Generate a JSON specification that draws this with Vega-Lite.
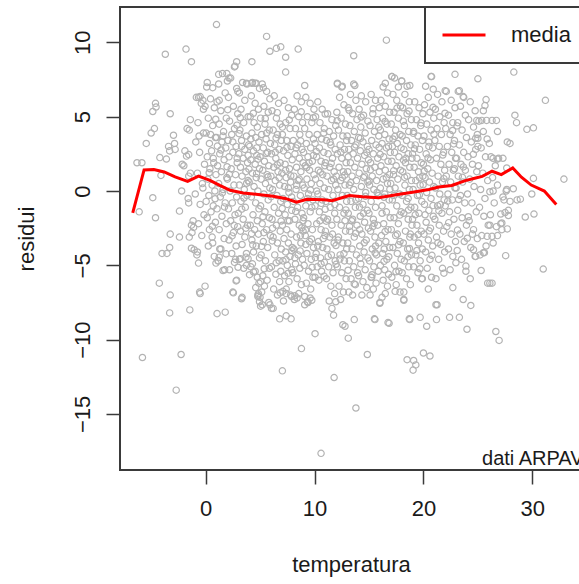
{
"$schema": "https://vega.github.io/schema/vega-lite/v6.json",
"width": 462, "height": 463,
"autosize": {"type": "none"},
"padding": {"left": 120, "top": 7, "right": -3, "bottom": 114},
"background": "white",
"config": {"view": {"stroke": "#3a3a3a", "strokeWidth": 2}, "font": "Liberation Sans"},
"datasets": {
"media": [{"t":-6.69,"m":-1.47},{"t":-5.65,"m":1.42},{"t":-4.75,"m":1.45},{"t":-3.8,"m":1.28},{"t":-2.8,"m":0.95},{"t":-1.65,"m":0.65},{"t":-0.65,"m":1.0},{"t":0.4,"m":0.72},{"t":1.3,"m":0.38},{"t":2.25,"m":0.05},{"t":3.45,"m":-0.13},{"t":5.0,"m":-0.25},{"t":6.2,"m":-0.35},{"t":7.3,"m":-0.5},{"t":8.35,"m":-0.75},{"t":9.3,"m":-0.55},{"t":10.8,"m":-0.58},{"t":11.6,"m":-0.65},{"t":13.2,"m":-0.3},{"t":14.4,"m":-0.38},{"t":15.9,"m":-0.45},{"t":17.5,"m":-0.25},{"t":19.0,"m":-0.08},{"t":20.5,"m":0.1},{"t":21.4,"m":0.27},{"t":22.6,"m":0.37},{"t":23.85,"m":0.7},{"t":24.8,"m":0.88},{"t":25.4,"m":0.98},{"t":26.3,"m":1.33},{"t":27.15,"m":1.1},{"t":28.2,"m":1.55},{"t":29.0,"m":0.93},{"t":29.9,"m":0.4},{"t":31.1,"m":0.0},{"t":32.2,"m":-0.9}],
"punti": [
{"t":-6.3,"r":1.9},{"t":-5.85,"r":1.9},{"t":-6.1,"r":-1.4},{"t":-5.8,"r":-11.2},{"t":-4.85,"r":-0.45},{"t":-4.6,"r":-1.8},{"t":-5.45,"r":3.2},{"t":-5.0,"r":3.9},{"t":-4.7,"r":4.2},{"t":-4.85,"r":5.35},{"t":-4.55,"r":5.65},{"t":-4.6,"r":5.9},{"t":-3.7,"r":9.2},{"t":-4.2,"r":2.25},{"t":-3.6,"r":2.15},{"t":-4.1,"r":1.05},{"t":-3.4,"r":3.0},{"t":-3.3,"r":2.7},{"t":-3.25,"r":5.2},{"t":-2.95,"r":3.75},{"t":-2.85,"r":3.2},{"t":-2.8,"r":2.8},{"t":-4.25,"r":-6.2},{"t":-4.0,"r":-4.2},{"t":-3.55,"r":-4.2},{"t":-3.3,"r":-3.8},{"t":-3.25,"r":-2.9},{"t":-3.25,"r":-7.0},{"t":-3.3,"r":-8.2},{"t":-2.7,"r":-13.4},{"t":-2.25,"r":-11.0},{"t":-2.4,"r":-3.1},{"t":-2.4,"r":-1.35},{"t":-2.2,"r":0.0},{"t":-2.15,"r":1.8},{"t":-2.0,"r":1.7},{"t":-1.8,"r":9.55},{"t":-1.3,"r":8.7},{"t":-1.9,"r":2.7},{"t":-1.75,"r":2.35},{"t":-1.55,"r":2.45},{"t":-1.5,"r":4.1},{"t":-1.7,"r":4.2},{"t":-1.4,"r":4.8},{"t":-1.45,"r":-8.0},{"t":-1.3,"r":-2.3},{"t":-1.15,"r":-2.0},{"t":-1.5,"r":-3.1},{"t":-1.25,"r":-2.8},{"t":-1.1,"r":-2.45},{"t":-1.3,"r":-3.85},{"t":-1.05,"r":-3.95},{"t":-0.75,"r":-4.1},{"t":-1.6,"r":-0.5},{"t":-1.55,"r":-0.8},{"t":-1.55,"r":1.0},{"t":-1.4,"r":1.2},{"t":-0.65,"r":-4.85},{"t":-0.5,"r":-6.9},{"t":-0.05,"r":-6.4},{"t":-0.55,"r":-6.8},{"t":-0.5,"r":6.35},{"t":-0.25,"r":6.1},{"t":-0.65,"r":6.3},{"t":-0.05,"r":5.7},{"t":-0.2,"r":5.5},
{"t":1.05,"r":-8.25},{"t":1.8,"r":-8.15},{"t":0.65,"r":-3.5},{"t":1.3,"r":-3.9},{"t":0.95,"r":-4.85},{"t":1.15,"r":-4.7},{"t":1.25,"r":-4.45},{"t":1.6,"r":-5.35},{"t":2.8,"r":-6.05},{"t":2.55,"r":-6.85},{"t":3.3,"r":-7.25},{"t":2.75,"r":-4.6},{"t":3.2,"r":-4.55},{"t":3.7,"r":-4.45},{"t":3.9,"r":-4.55},{"t":4.15,"r":-5.1},{"t":3.75,"r":-5.0},{"t":4.4,"r":-5.45},{"t":2.5,"r":-6.8},{"t":3.35,"r":-7.15},{"t":2.85,"r":-6.0},{"t":4.85,"r":-6.9},{"t":5.0,"r":-7.15},{"t":5.2,"r":-7.65},{"t":4.8,"r":-7.1},{"t":4.95,"r":-7.45},{"t":5.05,"r":-7.75},{"t":6.2,"r":-7.9},{"t":5.9,"r":-7.65},{"t":6.05,"r":-7.9},{"t":6.8,"r":-8.6},{"t":7.4,"r":-8.4},{"t":7.85,"r":-8.6},{"t":7.05,"r":-12.1},{"t":8.8,"r":-10.6},{"t":10.05,"r":-9.6},{"t":10.6,"r":-17.65},{"t":11.8,"r":-12.55},{"t":11.6,"r":-7.9},{"t":11.75,"r":-8.35},{"t":11.95,"r":-7.45},{"t":9.1,"r":-7.65},{"t":9.35,"r":-7.45},{"t":9.6,"r":-7.2},{"t":9.75,"r":-7.35},{"t":6.85,"r":-6.85},{"t":7.1,"r":-6.75},{"t":7.4,"r":-6.9},{"t":7.9,"r":-7.1},{"t":8.2,"r":-7.05},{"t":8.4,"r":-7.2},
{"t":12.6,"r":-9.0},{"t":12.8,"r":-9.1},{"t":13.1,"r":-9.9},{"t":13.65,"r":-8.65},{"t":13.8,"r":-14.6},{"t":14.85,"r":-11.0},{"t":15.5,"r":-8.6},{"t":16.0,"r":-7.5},{"t":16.2,"r":-7.15},{"t":16.75,"r":-8.85},{"t":18.2,"r":-7.3},{"t":18.5,"r":-11.35},{"t":19.1,"r":-11.4},{"t":19.3,"r":-11.7},{"t":19.05,"r":-12.05},{"t":18.7,"r":-8.6},{"t":19.7,"r":-8.5},{"t":20.3,"r":-9.1},{"t":20.0,"r":-10.9},{"t":20.6,"r":-11.1},{"t":21.2,"r":-8.65},{"t":21.25,"r":-7.65},{"t":20.45,"r":-6.6},{"t":19.9,"r":-5.9},{"t":21.15,"r":-7.65},{"t":22.4,"r":-8.5},{"t":23.3,"r":-8.5},{"t":24.0,"r":-9.3},{"t":23.65,"r":-7.3},{"t":24.35,"r":-7.7},{"t":24.3,"r":-5.9},{"t":22.7,"r":-6.5},{"t":25.3,"r":-5.35},{"t":23.9,"r":-5.05},{"t":25.5,"r":-4.15},{"t":25.9,"r":-6.2},{"t":26.1,"r":-6.2},{"t":26.3,"r":-6.2},{"t":26.65,"r":-9.45},{"t":26.95,"r":-10.05},{"t":27.55,"r":-4.35},{"t":27.5,"r":-1.45},{"t":27.2,"r":-2.15},{"t":26.8,"r":-3.0},{"t":26.3,"r":-3.05},{"t":25.85,"r":-3.05},{"t":31.0,"r":-5.25},{"t":29.35,"r":-1.75},{"t":30.15,"r":-1.55},{"t":29.95,"r":-0.2},{"t":27.3,"r":-0.4},{"t":27.95,"r":-0.7},{"t":28.6,"r":-0.6},{"t":28.9,"r":-0.55},{"t":27.1,"r":-1.55},{"t":27.8,"r":-1.65},{"t":26.1,"r":-2.3},{"t":27.1,"r":-2.2},{"t":27.7,"r":-2.55},{"t":24.6,"r":-3.95},{"t":24.8,"r":-4.4},{"t":25.6,"r":-4.15},{"t":13.65,"r":-6.25},{"t":15.2,"r":-5.8},{"t":16.0,"r":-7.55},{"t":17.4,"r":-6.75},{"t":18.2,"r":-7.35},{"t":15.55,"r":-8.65},{"t":16.85,"r":-8.9},{"t":18.75,"r":-8.65},
{"t":32.9,"r":0.8},{"t":31.2,"r":6.1},{"t":28.3,"r":8.0},{"t":28.4,"r":5.1},{"t":28.55,"r":4.6},{"t":29.5,"r":4.15},{"t":30.1,"r":4.25},{"t":27.95,"r":3.2},{"t":27.65,"r":1.55},{"t":30.1,"r":0.85},{"t":27.65,"r":0.1},{"t":28.25,"r":0.15},{"t":26.4,"r":0.0},{"t":26.1,"r":-0.05},{"t":26.4,"r":2.2},{"t":26.8,"r":2.15},{"t":24.8,"r":3.55},{"t":25.0,"r":3.55},{"t":25.0,"r":3.0},{"t":24.9,"r":4.75},{"t":25.35,"r":4.75},{"t":25.8,"r":4.75},{"t":26.3,"r":4.75},{"t":26.7,"r":4.75},{"t":26.8,"r":4.0},{"t":25.75,"r":6.15},{"t":25.65,"r":5.75},{"t":25.5,"r":5.4},{"t":22.0,"r":6.75},{"t":23.3,"r":6.75},{"t":23.65,"r":6.35},{"t":24.2,"r":9.6},{"t":20.75,"r":7.7},{"t":22.9,"r":7.85},{"t":25.0,"r":7.55},{"t":16.6,"r":10.15},{"t":13.6,"r":9.1},{"t":12.1,"r":7.25},{"t":12.55,"r":7.05},{"t":16.5,"r":7.25},{"t":17.1,"r":7.7},{"t":18.0,"r":7.4},{"t":18.75,"r":7.1},{"t":9.1,"r":7.1},{"t":7.35,"r":9.0},{"t":7.35,"r":8.0},{"t":8.5,"r":9.55},{"t":5.6,"r":10.4},{"t":5.9,"r":9.4},{"t":6.5,"r":9.6},{"t":6.9,"r":9.7},{"t":1.0,"r":11.2},{"t":1.2,"r":7.85},{"t":1.95,"r":7.9},{"t":2.15,"r":7.6},{"t":2.0,"r":7.4},{"t":2.85,"r":8.7},{"t":2.65,"r":8.35},{"t":4.25,"r":8.7},{"t":2.95,"r":6.7},{"t":3.75,"r":7.25},{"t":4.25,"r":7.25},{"t":4.55,"r":7.25},{"t":5.3,"r":6.95},{"t":0.15,"r":7.3},{"t":0.65,"r":6.95},{"t":1.25,"r":6.1},
{"t":-0.85,"r":6.3},{"t":-0.4,"r":5.9},{"t":-0.7,"r":4.6},{"t":-0.2,"r":3.9},{"t":-0.9,"r":3.3},{"t":-0.55,"r":2.6},{"t":-0.1,"r":1.8},{"t":-0.75,"r":1.2},{"t":-0.3,"r":0.5},{"t":-0.95,"r":-0.2},{"t":-0.5,"r":-0.9},{"t":-0.15,"r":-1.6},{"t":-0.65,"r":-2.2},{"t":-0.35,"r":-3.0},{"t":-0.8,"r":-4.3},{"t":-0.25,"r":0.2},{"t":-0.6,"r":3.7},
{"t":0.1,"r":7.0},{"t":0.45,"r":6.2},{"t":0.8,"r":5.6},{"t":0.25,"r":4.9},{"t":0.65,"r":4.4},{"t":0.05,"r":3.9},{"t":0.9,"r":3.6},{"t":0.35,"r":3.2},{"t":0.55,"r":2.7},{"t":0.15,"r":2.3},{"t":0.75,"r":1.9},{"t":0.4,"r":1.5},{"t":0.95,"r":1.1},{"t":0.2,"r":0.8},{"t":0.6,"r":0.4},{"t":0.85,"r":0.0},{"t":0.3,"r":-0.3},{"t":0.05,"r":-0.7},{"t":0.7,"r":-1.0},{"t":0.5,"r":-1.4},{"t":0.15,"r":-1.8},{"t":0.9,"r":-2.1},{"t":0.35,"r":-2.6},{"t":0.6,"r":-3.1},{"t":0.25,"r":-3.7},{"t":0.8,"r":-4.4},{"t":0.45,"r":3.8},{"t":0.7,"r":2.2},
{"t":1.55,"r":7.9},{"t":1.2,"r":7.2},{"t":1.8,"r":6.6},{"t":1.05,"r":6.0},{"t":1.4,"r":5.4},{"t":1.9,"r":4.9},{"t":1.25,"r":4.5},{"t":1.65,"r":4.0},{"t":1.0,"r":3.6},{"t":1.5,"r":3.3},{"t":1.85,"r":2.9},{"t":1.3,"r":2.5},{"t":1.7,"r":2.1},{"t":1.1,"r":1.7},{"t":1.45,"r":1.3},{"t":1.95,"r":0.9},{"t":1.2,"r":0.5},{"t":1.6,"r":0.1},{"t":1.35,"r":-0.4},{"t":1.8,"r":-0.8},{"t":1.05,"r":-1.2},{"t":1.5,"r":-1.7},{"t":1.9,"r":-2.2},{"t":1.25,"r":-2.6},{"t":1.7,"r":-3.2},{"t":1.4,"r":-3.9},{"t":1.15,"r":-4.7},{"t":1.75,"r":-5.3},{"t":1.6,"r":3.7},
{"t":2.7,"r":8.4},{"t":2.3,"r":7.6},{"t":2.85,"r":6.9},{"t":2.1,"r":6.3},{"t":2.55,"r":5.7},{"t":2.95,"r":5.2},{"t":2.2,"r":4.7},{"t":2.65,"r":4.2},{"t":2.4,"r":3.8},{"t":2.05,"r":3.4},{"t":2.8,"r":3.0},{"t":2.5,"r":2.6},{"t":2.15,"r":2.3},{"t":2.9,"r":1.9},{"t":2.35,"r":1.5},{"t":2.75,"r":1.1},{"t":2.0,"r":0.8},{"t":2.6,"r":0.4},{"t":2.25,"r":0.0},{"t":2.85,"r":-0.4},{"t":2.45,"r":-0.8},{"t":2.1,"r":-1.2},{"t":2.7,"r":-1.6},{"t":2.3,"r":-2.0},{"t":2.95,"r":-2.4},{"t":2.55,"r":-2.8},{"t":2.15,"r":-3.3},{"t":2.8,"r":-3.7},{"t":2.4,"r":-4.2},{"t":2.65,"r":-4.8},{"t":2.2,"r":-5.3},{"t":2.9,"r":2.2},{"t":2.5,"r":3.3},
{"t":3.4,"r":7.3},{"t":3.8,"r":7.2},{"t":3.1,"r":6.6},{"t":3.6,"r":6.1},{"t":3.25,"r":5.5},{"t":3.9,"r":5.0},{"t":3.5,"r":4.6},{"t":3.15,"r":4.1},{"t":3.75,"r":3.7},{"t":3.3,"r":3.4},{"t":3.95,"r":3.1},{"t":3.6,"r":2.8},{"t":3.05,"r":2.5},{"t":3.45,"r":2.2},{"t":3.85,"r":1.9},{"t":3.2,"r":1.6},{"t":3.7,"r":1.3},{"t":3.35,"r":1.0},{"t":3.9,"r":0.7},{"t":3.1,"r":0.4},{"t":3.55,"r":0.1},{"t":3.8,"r":-0.3},{"t":3.25,"r":-0.7},{"t":3.65,"r":-1.1},{"t":3.0,"r":-1.5},{"t":3.45,"r":-1.9},{"t":3.85,"r":-2.3},{"t":3.2,"r":-2.7},{"t":3.6,"r":-3.1},{"t":3.35,"r":-3.6},{"t":3.75,"r":-4.2},{"t":3.1,"r":-4.6},{"t":3.5,"r":-5.2},{"t":3.9,"r":2.4},{"t":3.3,"r":3.0},{"t":3.7,"r":-2.5},
{"t":4.3,"r":7.3},{"t":4.65,"r":7.25},{"t":4.95,"r":6.9},{"t":4.2,"r":6.4},{"t":4.55,"r":5.9},{"t":4.85,"r":5.5},{"t":4.1,"r":5.0},{"t":4.45,"r":4.6},{"t":4.75,"r":4.3},{"t":4.25,"r":3.9},{"t":4.6,"r":3.6},{"t":4.9,"r":3.3},{"t":4.05,"r":3.0},{"t":4.4,"r":2.7},{"t":4.7,"r":2.4},{"t":4.15,"r":2.1},{"t":4.55,"r":1.8},{"t":4.95,"r":1.5},{"t":4.3,"r":1.2},{"t":4.65,"r":0.9},{"t":4.0,"r":0.6},{"t":4.45,"r":0.3},{"t":4.8,"r":0.0},{"t":4.2,"r":-0.4},{"t":4.6,"r":-0.8},{"t":4.9,"r":-1.2},{"t":4.35,"r":-1.6},{"t":4.75,"r":-2.0},{"t":4.1,"r":-2.3},{"t":4.5,"r":-2.6},{"t":4.85,"r":-2.9},{"t":4.25,"r":-3.3},{"t":4.65,"r":-3.7},{"t":4.4,"r":-4.1},{"t":4.95,"r":-4.5},{"t":4.55,"r":-5.4},{"t":4.75,"r":-5.8},{"t":4.9,"r":-6.2},{"t":4.6,"r":-6.5},{"t":4.8,"r":-7.0},{"t":4.3,"r":-4.9},{"t":4.7,"r":2.9},{"t":4.15,"r":3.5},
{"t":5.2,"r":7.2},{"t":5.6,"r":6.7},{"t":5.9,"r":6.2},{"t":5.35,"r":5.7},{"t":5.75,"r":5.3},{"t":5.05,"r":4.9},{"t":5.45,"r":4.5},{"t":5.85,"r":4.1},{"t":5.15,"r":3.8},{"t":5.55,"r":3.5},{"t":5.95,"r":3.2},{"t":5.3,"r":2.9},{"t":5.7,"r":2.6},{"t":5.0,"r":2.3},{"t":5.4,"r":2.0},{"t":5.8,"r":1.7},{"t":5.25,"r":1.4},{"t":5.65,"r":1.1},{"t":5.1,"r":0.8},{"t":5.5,"r":0.5},{"t":5.9,"r":0.2},{"t":5.35,"r":-0.2},{"t":5.75,"r":-0.6},{"t":5.05,"r":-1.0},{"t":5.45,"r":-1.4},{"t":5.85,"r":-1.8},{"t":5.2,"r":-2.2},{"t":5.6,"r":-2.6},{"t":5.95,"r":-3.0},{"t":5.3,"r":-3.4},{"t":5.7,"r":-3.8},{"t":5.1,"r":-4.3},{"t":5.5,"r":-4.7},{"t":5.85,"r":-5.2},{"t":5.25,"r":-5.7},{"t":5.05,"r":-6.1},{"t":5.4,"r":-6.4},{"t":5.65,"r":-6.0},{"t":5.15,"r":-6.8},{"t":5.8,"r":-7.5},{"t":5.6,"r":3.9},{"t":5.35,"r":-2.8},
{"t":6.3,"r":6.4},{"t":6.7,"r":5.9},{"t":6.1,"r":5.4},{"t":6.5,"r":4.9},{"t":6.85,"r":4.5},{"t":6.2,"r":4.1},{"t":6.6,"r":3.8},{"t":6.95,"r":3.4},{"t":6.35,"r":3.1},{"t":6.75,"r":2.8},{"t":6.05,"r":2.5},{"t":6.45,"r":2.2},{"t":6.85,"r":1.9},{"t":6.25,"r":1.6},{"t":6.65,"r":1.3},{"t":6.0,"r":1.0},{"t":6.4,"r":0.7},{"t":6.8,"r":0.4},{"t":6.15,"r":0.1},{"t":6.55,"r":-0.3},{"t":6.9,"r":-0.7},{"t":6.3,"r":-1.1},{"t":6.7,"r":-1.5},{"t":6.1,"r":-1.9},{"t":6.5,"r":-2.3},{"t":6.85,"r":-2.7},{"t":6.2,"r":-3.1},{"t":6.6,"r":-3.5},{"t":6.95,"r":-3.9},{"t":6.35,"r":-4.3},{"t":6.75,"r":-4.7},{"t":6.05,"r":-5.1},{"t":6.45,"r":-5.6},{"t":6.8,"r":-6.1},{"t":6.25,"r":-6.6},{"t":6.6,"r":-7.0},{"t":6.9,"r":-5.4},{"t":6.4,"r":2.6},{"t":6.15,"r":-2.5},{"t":6.75,"r":0.9},
{"t":7.2,"r":6.1},{"t":7.6,"r":5.6},{"t":7.9,"r":5.1},{"t":7.35,"r":4.6},{"t":7.75,"r":4.2},{"t":7.05,"r":3.8},{"t":7.45,"r":3.4},{"t":7.85,"r":3.0},{"t":7.15,"r":2.7},{"t":7.55,"r":2.4},{"t":7.95,"r":2.1},{"t":7.3,"r":1.8},{"t":7.7,"r":1.5},{"t":7.0,"r":1.2},{"t":7.4,"r":0.9},{"t":7.8,"r":0.6},{"t":7.25,"r":0.3},{"t":7.65,"r":-0.1},{"t":7.1,"r":-0.5},{"t":7.5,"r":-0.9},{"t":7.9,"r":-1.3},{"t":7.3,"r":-1.6},{"t":7.7,"r":-2.0},{"t":7.05,"r":-2.3},{"t":7.45,"r":-2.6},{"t":7.85,"r":-2.9},{"t":7.2,"r":-3.2},{"t":7.6,"r":-3.5},{"t":7.95,"r":-3.8},{"t":7.35,"r":-4.1},{"t":7.75,"r":-4.4},{"t":7.1,"r":-4.7},{"t":7.5,"r":-5.0},{"t":7.9,"r":-5.3},{"t":7.25,"r":-5.7},{"t":7.65,"r":-6.1},{"t":7.4,"r":-6.6},{"t":7.8,"r":-7.0},{"t":7.15,"r":-7.4},{"t":7.55,"r":-2.0},{"t":7.35,"r":1.4},{"t":7.9,"r":-0.4},{"t":7.6,"r":0.2},{"t":7.05,"r":4.3},
{"t":8.4,"r":6.4},{"t":8.8,"r":6.0},{"t":8.15,"r":5.5},{"t":8.55,"r":5.0},{"t":8.9,"r":4.6},{"t":8.25,"r":4.2},{"t":8.65,"r":3.8},{"t":8.05,"r":3.4},{"t":8.45,"r":3.1},{"t":8.85,"r":2.8},{"t":8.2,"r":2.5},{"t":8.6,"r":2.2},{"t":8.95,"r":1.9},{"t":8.35,"r":1.6},{"t":8.75,"r":1.3},{"t":8.1,"r":1.0},{"t":8.5,"r":0.7},{"t":8.9,"r":0.4},{"t":8.3,"r":0.1},{"t":8.7,"r":-0.3},{"t":8.05,"r":-0.7},{"t":8.45,"r":-1.1},{"t":8.85,"r":-1.5},{"t":8.2,"r":-1.9},{"t":8.6,"r":-2.3},{"t":8.95,"r":-2.7},{"t":8.35,"r":-3.1},{"t":8.75,"r":-3.5},{"t":8.1,"r":-3.9},{"t":8.5,"r":-4.3},{"t":8.9,"r":-4.6},{"t":8.25,"r":-4.9},{"t":8.65,"r":-5.2},{"t":8.0,"r":-5.5},{"t":8.4,"r":-5.9},{"t":8.8,"r":-6.3},{"t":8.55,"r":-6.9},{"t":8.15,"r":-7.3},{"t":8.7,"r":-3.0},{"t":8.3,"r":2.9},{"t":8.95,"r":-2.0},{"t":8.6,"r":0.8},{"t":8.2,"r":-4.5},
{"t":9.2,"r":6.3},{"t":9.6,"r":5.9},{"t":9.95,"r":5.5},{"t":9.35,"r":5.0},{"t":9.75,"r":4.6},{"t":9.1,"r":4.2},{"t":9.5,"r":3.8},{"t":9.9,"r":3.5},{"t":9.25,"r":3.2},{"t":9.65,"r":2.9},{"t":9.0,"r":2.6},{"t":9.4,"r":2.3},{"t":9.8,"r":2.0},{"t":9.15,"r":1.7},{"t":9.55,"r":1.4},{"t":9.95,"r":1.1},{"t":9.3,"r":0.8},{"t":9.7,"r":0.5},{"t":9.05,"r":0.2},{"t":9.45,"r":-0.2},{"t":9.85,"r":-0.6},{"t":9.2,"r":-1.0},{"t":9.6,"r":-1.4},{"t":9.0,"r":-1.8},{"t":9.4,"r":-2.2},{"t":9.8,"r":-2.6},{"t":9.15,"r":-3.0},{"t":9.55,"r":-3.4},{"t":9.9,"r":-3.8},{"t":9.3,"r":-4.2},{"t":9.7,"r":-4.6},{"t":9.05,"r":-5.0},{"t":9.45,"r":-5.4},{"t":9.85,"r":-5.8},{"t":9.25,"r":-6.2},{"t":9.65,"r":-6.6},{"t":9.1,"r":-7.1},{"t":9.4,"r":-7.5},{"t":9.75,"r":-1.1},{"t":9.5,"r":1.9},{"t":9.2,"r":-3.6},{"t":9.9,"r":2.4},{"t":9.35,"r":-0.5},
{"t":10.3,"r":6.0},{"t":10.7,"r":5.5},{"t":10.1,"r":5.0},{"t":10.5,"r":4.6},{"t":10.9,"r":4.2},{"t":10.25,"r":3.8},{"t":10.65,"r":3.5},{"t":10.05,"r":3.2},{"t":10.45,"r":2.9},{"t":10.85,"r":2.6},{"t":10.2,"r":2.3},{"t":10.6,"r":2.0},{"t":10.95,"r":1.7},{"t":10.35,"r":1.4},{"t":10.75,"r":1.1},{"t":10.1,"r":0.8},{"t":10.5,"r":0.5},{"t":10.9,"r":0.2},{"t":10.3,"r":-0.2},{"t":10.7,"r":-0.6},{"t":10.05,"r":-1.0},{"t":10.45,"r":-1.4},{"t":10.85,"r":-1.8},{"t":10.2,"r":-2.2},{"t":10.6,"r":-2.6},{"t":10.95,"r":-3.0},{"t":10.35,"r":-3.4},{"t":10.75,"r":-3.8},{"t":10.15,"r":-4.2},{"t":10.55,"r":-4.5},{"t":10.9,"r":-4.8},{"t":10.25,"r":-5.1},{"t":10.65,"r":-5.4},{"t":10.05,"r":-5.8},{"t":10.4,"r":-6.0},{"t":10.8,"r":-3.2},{"t":10.5,"r":-2.0},{"t":10.2,"r":0.0},{"t":10.85,"r":3.9},{"t":10.6,"r":-4.9},{"t":10.3,"r":-3.7},
{"t":11.2,"r":5.2},{"t":11.6,"r":4.8},{"t":11.95,"r":4.4},{"t":11.35,"r":4.0},{"t":11.75,"r":3.7},{"t":11.1,"r":3.4},{"t":11.5,"r":3.1},{"t":11.9,"r":2.8},{"t":11.25,"r":2.5},{"t":11.65,"r":2.2},{"t":11.0,"r":1.9},{"t":11.4,"r":1.6},{"t":11.8,"r":1.3},{"t":11.15,"r":1.0},{"t":11.55,"r":0.7},{"t":11.95,"r":0.4},{"t":11.3,"r":0.1},{"t":11.7,"r":-0.3},{"t":11.05,"r":-0.7},{"t":11.45,"r":-1.1},{"t":11.85,"r":-1.5},{"t":11.2,"r":-1.9},{"t":11.6,"r":-2.3},{"t":11.0,"r":-2.7},{"t":11.4,"r":-3.1},{"t":11.8,"r":-3.5},{"t":11.15,"r":-3.9},{"t":11.55,"r":-4.3},{"t":11.9,"r":-4.7},{"t":11.3,"r":-5.1},{"t":11.7,"r":-5.5},{"t":11.1,"r":-5.9},{"t":11.5,"r":-6.4},{"t":11.85,"r":-6.9},{"t":11.35,"r":-7.4},{"t":11.65,"r":-2.9},{"t":11.25,"r":-4.4},{"t":11.75,"r":0.8},
{"t":12.1,"r":7.2},{"t":12.5,"r":7.0},{"t":12.3,"r":6.3},{"t":12.7,"r":5.8},{"t":12.05,"r":5.3},{"t":12.45,"r":4.9},{"t":12.85,"r":4.5},{"t":12.2,"r":4.1},{"t":12.6,"r":3.7},{"t":12.95,"r":3.4},{"t":12.35,"r":3.1},{"t":12.75,"r":2.8},{"t":12.1,"r":2.5},{"t":12.5,"r":2.2},{"t":12.9,"r":1.9},{"t":12.25,"r":1.6},{"t":12.65,"r":1.3},{"t":12.0,"r":1.0},{"t":12.4,"r":0.7},{"t":12.8,"r":0.4},{"t":12.15,"r":0.1},{"t":12.55,"r":-0.3},{"t":12.95,"r":-0.7},{"t":12.3,"r":-1.1},{"t":12.7,"r":-1.5},{"t":12.05,"r":-1.9},{"t":12.45,"r":-2.3},{"t":12.85,"r":-2.7},{"t":12.2,"r":-3.1},{"t":12.6,"r":-3.5},{"t":12.95,"r":-3.9},{"t":12.35,"r":-4.3},{"t":12.75,"r":-4.7},{"t":12.1,"r":-5.1},{"t":12.5,"r":-5.5},{"t":12.9,"r":-5.9},{"t":12.25,"r":-6.4},{"t":12.65,"r":-6.8},{"t":12.4,"r":-7.3},{"t":12.8,"r":-2.0},{"t":12.15,"r":-3.3},{"t":12.55,"r":0.9},{"t":12.7,"r":-4.2},
{"t":13.6,"r":7.2},{"t":13.7,"r":7.1},{"t":13.3,"r":6.5},{"t":13.8,"r":6.1},{"t":13.1,"r":5.6},{"t":13.5,"r":5.2},{"t":13.9,"r":4.8},{"t":13.25,"r":4.4},{"t":13.65,"r":4.0},{"t":13.0,"r":3.7},{"t":13.4,"r":3.4},{"t":13.8,"r":3.1},{"t":13.15,"r":2.8},{"t":13.55,"r":2.5},{"t":13.95,"r":2.2},{"t":13.3,"r":1.9},{"t":13.7,"r":1.6},{"t":13.05,"r":1.3},{"t":13.45,"r":1.0},{"t":13.85,"r":0.7},{"t":13.2,"r":0.4},{"t":13.6,"r":0.1},{"t":13.0,"r":-0.3},{"t":13.35,"r":-0.7},{"t":13.75,"r":-1.1},{"t":13.1,"r":-1.5},{"t":13.5,"r":-1.9},{"t":13.9,"r":-2.3},{"t":13.25,"r":-2.7},{"t":13.65,"r":-3.1},{"t":13.05,"r":-3.5},{"t":13.45,"r":-3.9},{"t":13.85,"r":-4.3},{"t":13.2,"r":-4.7},{"t":13.6,"r":-5.1},{"t":13.95,"r":-5.5},{"t":13.35,"r":-5.9},{"t":13.75,"r":-6.3},{"t":13.15,"r":-6.8},{"t":13.5,"r":-7.0},{"t":13.4,"r":-2.0},{"t":13.8,"r":-0.6},{"t":13.1,"r":2.3},
{"t":14.3,"r":6.4},{"t":14.7,"r":6.0},{"t":14.1,"r":5.5},{"t":14.5,"r":5.1},{"t":14.9,"r":4.7},{"t":14.25,"r":4.3},{"t":14.65,"r":3.9},{"t":14.05,"r":3.6},{"t":14.45,"r":3.3},{"t":14.85,"r":3.0},{"t":14.2,"r":2.7},{"t":14.6,"r":2.4},{"t":14.95,"r":2.1},{"t":14.35,"r":1.8},{"t":14.75,"r":1.5},{"t":14.1,"r":1.2},{"t":14.5,"r":0.9},{"t":14.9,"r":0.6},{"t":14.3,"r":0.3},{"t":14.7,"r":-0.1},{"t":14.05,"r":-0.5},{"t":14.45,"r":-0.9},{"t":14.85,"r":-1.3},{"t":14.2,"r":-1.7},{"t":14.6,"r":-2.1},{"t":14.95,"r":-2.5},{"t":14.35,"r":-2.9},{"t":14.75,"r":-3.3},{"t":14.15,"r":-3.7},{"t":14.55,"r":-4.1},{"t":14.9,"r":-4.5},{"t":14.25,"r":-4.9},{"t":14.65,"r":-5.3},{"t":14.05,"r":-5.7},{"t":14.45,"r":-6.1},{"t":14.8,"r":-6.5},{"t":14.35,"r":-7.0},{"t":14.6,"r":1.0},{"t":14.15,"r":-2.6},{"t":14.8,"r":2.6},{"t":14.5,"r":-1.5},
{"t":15.2,"r":6.5},{"t":15.6,"r":6.1},{"t":15.95,"r":5.6},{"t":15.35,"r":5.2},{"t":15.75,"r":4.8},{"t":15.1,"r":4.4},{"t":15.5,"r":4.0},{"t":15.9,"r":3.7},{"t":15.25,"r":3.4},{"t":15.65,"r":3.1},{"t":15.0,"r":2.8},{"t":15.4,"r":2.5},{"t":15.8,"r":2.2},{"t":15.15,"r":1.9},{"t":15.55,"r":1.6},{"t":15.95,"r":1.3},{"t":15.3,"r":1.0},{"t":15.7,"r":0.7},{"t":15.05,"r":0.4},{"t":15.45,"r":0.1},{"t":15.85,"r":-0.3},{"t":15.2,"r":-0.7},{"t":15.6,"r":-1.1},{"t":15.0,"r":-1.5},{"t":15.4,"r":-1.9},{"t":15.8,"r":-2.3},{"t":15.15,"r":-2.7},{"t":15.55,"r":-3.1},{"t":15.9,"r":-3.5},{"t":15.3,"r":-3.9},{"t":15.7,"r":-4.3},{"t":15.05,"r":-4.7},{"t":15.45,"r":-5.1},{"t":15.85,"r":-5.4},{"t":15.25,"r":-5.8},{"t":15.65,"r":-6.2},{"t":15.4,"r":-6.6},{"t":15.1,"r":-7.0},{"t":15.75,"r":-0.1},{"t":15.35,"r":-2.4},{"t":15.9,"r":4.3},{"t":15.6,"r":-3.7},
{"t":16.3,"r":7.0},{"t":16.7,"r":6.6},{"t":16.1,"r":6.1},{"t":16.5,"r":5.7},{"t":16.9,"r":5.3},{"t":16.25,"r":4.9},{"t":16.65,"r":4.5},{"t":16.05,"r":4.1},{"t":16.45,"r":3.8},{"t":16.85,"r":3.5},{"t":16.2,"r":3.2},{"t":16.6,"r":2.9},{"t":16.95,"r":2.6},{"t":16.35,"r":2.3},{"t":16.75,"r":2.0},{"t":16.1,"r":1.7},{"t":16.5,"r":1.4},{"t":16.9,"r":1.1},{"t":16.3,"r":0.8},{"t":16.7,"r":0.5},{"t":16.05,"r":0.2},{"t":16.45,"r":-0.2},{"t":16.85,"r":-0.6},{"t":16.2,"r":-1.0},{"t":16.6,"r":-1.4},{"t":16.95,"r":-1.8},{"t":16.35,"r":-2.2},{"t":16.75,"r":-2.6},{"t":16.15,"r":-3.0},{"t":16.55,"r":-3.4},{"t":16.9,"r":-3.8},{"t":16.25,"r":-4.2},{"t":16.65,"r":-4.6},{"t":16.05,"r":-5.0},{"t":16.45,"r":-5.3},{"t":16.8,"r":-5.6},{"t":16.3,"r":-6.0},{"t":16.7,"r":-6.4},{"t":16.5,"r":-6.9},{"t":16.2,"r":-1.5},{"t":16.8,"r":3.0},{"t":16.4,"r":-3.9},{"t":16.6,"r":0.9},
{"t":17.1,"r":7.7},{"t":17.35,"r":7.6},{"t":17.7,"r":7.0},{"t":17.2,"r":6.5},{"t":17.55,"r":6.1},{"t":17.9,"r":5.7},{"t":17.3,"r":5.3},{"t":17.7,"r":4.9},{"t":17.05,"r":4.5},{"t":17.45,"r":4.1},{"t":17.85,"r":3.8},{"t":17.2,"r":3.5},{"t":17.6,"r":3.2},{"t":17.95,"r":2.9},{"t":17.35,"r":2.6},{"t":17.75,"r":2.3},{"t":17.1,"r":2.0},{"t":17.5,"r":1.7},{"t":17.9,"r":1.4},{"t":17.25,"r":1.1},{"t":17.65,"r":0.8},{"t":17.0,"r":0.5},{"t":17.4,"r":0.2},{"t":17.8,"r":-0.2},{"t":17.15,"r":-0.6},{"t":17.55,"r":-1.0},{"t":17.95,"r":-1.4},{"t":17.3,"r":-1.8},{"t":17.7,"r":-2.2},{"t":17.05,"r":-2.6},{"t":17.45,"r":-3.0},{"t":17.85,"r":-3.4},{"t":17.2,"r":-3.8},{"t":17.6,"r":-4.2},{"t":17.95,"r":-4.6},{"t":17.35,"r":-5.0},{"t":17.75,"r":-5.4},{"t":17.1,"r":-5.8},{"t":17.5,"r":-6.3},{"t":17.85,"r":-6.8},{"t":17.3,"r":-0.3},{"t":17.6,"r":-2.9},{"t":17.15,"r":3.0},
{"t":18.0,"r":7.4},{"t":18.5,"r":7.05},{"t":18.3,"r":6.5},{"t":18.7,"r":6.0},{"t":18.1,"r":5.6},{"t":18.5,"r":5.2},{"t":18.9,"r":4.8},{"t":18.25,"r":4.4},{"t":18.65,"r":4.0},{"t":18.05,"r":3.7},{"t":18.45,"r":3.4},{"t":18.85,"r":3.1},{"t":18.2,"r":2.8},{"t":18.6,"r":2.5},{"t":18.95,"r":2.2},{"t":18.35,"r":1.9},{"t":18.75,"r":1.6},{"t":18.1,"r":1.3},{"t":18.5,"r":1.0},{"t":18.9,"r":0.7},{"t":18.3,"r":0.4},{"t":18.7,"r":0.1},{"t":18.05,"r":-0.3},{"t":18.45,"r":-0.7},{"t":18.85,"r":-1.1},{"t":18.2,"r":-1.5},{"t":18.6,"r":-1.9},{"t":18.95,"r":-2.3},{"t":18.35,"r":-2.7},{"t":18.75,"r":-3.1},{"t":18.15,"r":-3.5},{"t":18.55,"r":-3.9},{"t":18.9,"r":-4.3},{"t":18.25,"r":-4.7},{"t":18.65,"r":-5.1},{"t":18.05,"r":-5.5},{"t":18.45,"r":-5.9},{"t":18.8,"r":-6.3},{"t":18.2,"r":-6.8},{"t":18.6,"r":-0.5},{"t":18.4,"r":2.2},{"t":18.8,"r":-2.9},{"t":18.15,"r":4.7},
{"t":19.2,"r":6.0},{"t":19.6,"r":5.6},{"t":19.95,"r":5.2},{"t":19.35,"r":4.8},{"t":19.75,"r":4.4},{"t":19.1,"r":4.0},{"t":19.5,"r":3.7},{"t":19.9,"r":3.4},{"t":19.25,"r":3.1},{"t":19.65,"r":2.8},{"t":19.0,"r":2.5},{"t":19.4,"r":2.2},{"t":19.8,"r":1.9},{"t":19.15,"r":1.6},{"t":19.55,"r":1.3},{"t":19.95,"r":1.0},{"t":19.3,"r":0.7},{"t":19.7,"r":0.4},{"t":19.05,"r":0.1},{"t":19.45,"r":-0.3},{"t":19.85,"r":-0.7},{"t":19.2,"r":-1.1},{"t":19.6,"r":-1.5},{"t":19.0,"r":-1.9},{"t":19.4,"r":-2.3},{"t":19.8,"r":-2.7},{"t":19.15,"r":-3.1},{"t":19.55,"r":-3.5},{"t":19.9,"r":-3.9},{"t":19.3,"r":-4.3},{"t":19.7,"r":-4.7},{"t":19.1,"r":-5.1},{"t":19.5,"r":-5.5},{"t":19.85,"r":-5.9},{"t":19.25,"r":-1.6},{"t":19.65,"r":0.9},{"t":19.4,"r":-4.0},
{"t":20.7,"r":7.7},{"t":20.2,"r":7.05},{"t":20.9,"r":6.85},{"t":20.45,"r":6.3},{"t":20.1,"r":5.8},{"t":20.6,"r":5.3},{"t":20.95,"r":4.9},{"t":20.3,"r":4.5},{"t":20.7,"r":4.1},{"t":20.05,"r":3.7},{"t":20.5,"r":3.3},{"t":20.85,"r":2.9},{"t":20.25,"r":2.5},{"t":20.65,"r":2.1},{"t":20.0,"r":1.8},{"t":20.4,"r":1.5},{"t":20.8,"r":1.2},{"t":20.15,"r":0.9},{"t":20.55,"r":0.6},{"t":20.95,"r":0.3},{"t":20.3,"r":-0.1},{"t":20.7,"r":-0.5},{"t":20.1,"r":-0.9},{"t":20.5,"r":-1.3},{"t":20.9,"r":-1.7},{"t":20.25,"r":-2.1},{"t":20.65,"r":-2.5},{"t":20.05,"r":-2.9},{"t":20.45,"r":-3.3},{"t":20.85,"r":-3.7},{"t":20.2,"r":-4.1},{"t":20.6,"r":-4.6},{"t":20.35,"r":-5.2},{"t":20.75,"r":-5.8},{"t":20.5,"r":3.0},{"t":20.15,"r":-1.6},
{"t":21.3,"r":6.5},{"t":21.7,"r":6.0},{"t":21.1,"r":5.5},{"t":21.5,"r":5.0},{"t":21.9,"r":4.6},{"t":21.25,"r":4.2},{"t":21.65,"r":3.8},{"t":21.05,"r":3.4},{"t":21.45,"r":3.0},{"t":21.85,"r":2.6},{"t":21.2,"r":2.2},{"t":21.6,"r":1.8},{"t":21.95,"r":1.4},{"t":21.35,"r":1.0},{"t":21.75,"r":0.6},{"t":21.1,"r":0.2},{"t":21.5,"r":-0.2},{"t":21.9,"r":-0.6},{"t":21.3,"r":-1.0},{"t":21.7,"r":-1.5},{"t":21.05,"r":-1.9},{"t":21.45,"r":-2.3},{"t":21.85,"r":-2.7},{"t":21.2,"r":-3.1},{"t":21.6,"r":-3.6},{"t":21.95,"r":-4.1},{"t":21.4,"r":-4.6},{"t":21.75,"r":-5.2},{"t":21.15,"r":-5.9},{"t":21.55,"r":-0.9},
{"t":22.1,"r":6.7},{"t":22.55,"r":6.1},{"t":22.9,"r":5.6},{"t":22.3,"r":5.1},{"t":22.7,"r":4.6},{"t":22.05,"r":4.2},{"t":22.45,"r":3.8},{"t":22.85,"r":3.4},{"t":22.2,"r":3.0},{"t":22.6,"r":2.6},{"t":22.95,"r":2.2},{"t":22.35,"r":1.8},{"t":22.75,"r":1.4},{"t":22.1,"r":1.0},{"t":22.5,"r":0.6},{"t":22.9,"r":0.2},{"t":22.25,"r":-0.2},{"t":22.65,"r":-0.6},{"t":22.0,"r":-1.0},{"t":22.4,"r":-1.4},{"t":22.8,"r":-1.9},{"t":22.15,"r":-2.4},{"t":22.55,"r":-2.9},{"t":22.95,"r":-3.4},{"t":22.3,"r":-3.9},{"t":22.7,"r":-4.4},{"t":22.45,"r":-5.3},{"t":22.85,"r":1.5},
{"t":23.2,"r":6.7},{"t":23.7,"r":6.3},{"t":23.4,"r":5.7},{"t":23.85,"r":5.1},{"t":23.15,"r":4.6},{"t":23.55,"r":4.1},{"t":23.95,"r":3.6},{"t":23.3,"r":3.1},{"t":23.7,"r":2.6},{"t":23.05,"r":2.2},{"t":23.45,"r":1.8},{"t":23.85,"r":1.4},{"t":23.2,"r":1.0},{"t":23.6,"r":0.6},{"t":23.0,"r":0.2},{"t":23.4,"r":-0.3},{"t":23.8,"r":-0.8},{"t":23.15,"r":-1.3},{"t":23.55,"r":-1.8},{"t":23.95,"r":-2.3},{"t":23.35,"r":-2.9},{"t":23.75,"r":-3.4},{"t":23.1,"r":-4.0},{"t":23.5,"r":-4.6},{"t":23.9,"r":-5.4},
{"t":24.3,"r":6.0},{"t":24.75,"r":5.4},{"t":24.15,"r":4.8},{"t":24.6,"r":4.3},{"t":24.95,"r":3.8},{"t":24.4,"r":3.3},{"t":24.8,"r":2.8},{"t":24.1,"r":2.3},{"t":24.5,"r":1.8},{"t":24.9,"r":1.3},{"t":24.25,"r":0.8},{"t":24.65,"r":0.3},{"t":24.05,"r":-0.2},{"t":24.45,"r":-0.8},{"t":24.85,"r":-1.4},{"t":24.2,"r":-2.0},{"t":24.6,"r":-2.6},{"t":24.95,"r":-3.2},{"t":24.35,"r":-3.8},{"t":24.75,"r":-4.4},{"t":24.5,"r":-2.9},
{"t":25.1,"r":4.7},{"t":25.5,"r":4.0},{"t":25.85,"r":3.5},{"t":25.3,"r":2.9},{"t":25.7,"r":2.3},{"t":25.05,"r":1.7},{"t":25.45,"r":1.2},{"t":25.9,"r":0.7},{"t":25.25,"r":0.1},{"t":25.65,"r":-0.5},{"t":25.15,"r":-1.1},{"t":25.55,"r":-1.7},{"t":25.95,"r":-2.3},{"t":25.35,"r":-3.0},{"t":25.75,"r":-3.7},{"t":25.2,"r":-4.3},
{"t":26.2,"r":2.3},{"t":26.6,"r":1.7},{"t":26.35,"r":0.9},{"t":26.8,"r":0.4},{"t":26.5,"r":-0.8},{"t":26.15,"r":-1.6},{"t":26.7,"r":-2.4},{"t":26.4,"r":-3.5},{"t":26.9,"r":2.2},{"t":26.05,"r":3.2},
{"t":27.3,"r":2.2},{"t":27.6,"r":0.0},{"t":27.4,"r":-0.6},{"t":27.8,"r":-1.3},{"t":27.2,"r":-2.6},{"t":27.7,"r":3.3},
{"t":0.33,"r":1.23},{"t":0.87,"r":-0.52},{"t":1.42,"r":2.76},{"t":1.73,"r":-1.07},{"t":2.18,"r":1.12},{"t":2.62,"r":-2.31},{"t":3.07,"r":3.86},{"t":3.52,"r":-0.47},{"t":3.98,"r":1.47},{"t":4.33,"r":-3.62},{"t":4.81,"r":2.14},{"t":5.27,"r":-1.73},{"t":5.73,"r":0.96},{"t":6.12,"r":-3.36},{"t":6.58,"r":1.77},{"t":7.03,"r":-1.18},{"t":7.47,"r":2.93},{"t":7.92,"r":-4.02},{"t":8.37,"r":0.38},{"t":8.83,"r":-2.47},{"t":9.28,"r":1.58},{"t":9.73,"r":-3.23},{"t":10.17,"r":2.66},{"t":10.62,"r":-0.83},{"t":11.08,"r":-2.03},{"t":11.53,"r":1.86},{"t":11.97,"r":-3.67},{"t":12.42,"r":2.61},{"t":12.88,"r":-1.27},{"t":13.33,"r":0.57},{"t":13.78,"r":-2.84},{"t":14.22,"r":3.54},{"t":14.68,"r":-0.36},{"t":15.13,"r":1.42},{"t":15.57,"r":-4.17},{"t":16.03,"r":2.47},{"t":16.48,"r":-2.73},{"t":16.92,"r":0.12},{"t":17.38,"r":3.68},{"t":17.83,"r":-1.62},{"t":18.27,"r":0.92},{"t":18.72,"r":-3.87},{"t":19.18,"r":2.84},{"t":19.62,"r":-0.26},{"t":20.07,"r":1.33},{"t":20.53,"r":-2.68},{"t":20.97,"r":3.82},{"t":21.42,"r":-1.32},{"t":21.88,"r":0.83},{"t":22.32,"r":-2.13},{"t":22.78,"r":3.17},{"t":23.23,"r":-0.57},{"t":23.67,"r":1.62},{"t":24.12,"r":-1.73},{"t":24.58,"r":2.47},
{"t":0.62,"r":-2.37},{"t":1.08,"r":3.02},{"t":1.53,"r":-0.13},{"t":1.97,"r":1.63},{"t":2.43,"r":-3.02},{"t":2.88,"r":4.43},{"t":3.32,"r":-1.22},{"t":3.77,"r":0.52},{"t":4.22,"r":-2.87},{"t":4.68,"r":1.17},{"t":5.13,"r":-3.73},{"t":5.57,"r":2.52},{"t":6.02,"r":-0.38},{"t":6.47,"r":3.57},{"t":6.93,"r":-2.02},{"t":7.38,"r":-4.62},{"t":7.82,"r":1.02},{"t":8.28,"r":-1.38},{"t":8.73,"r":3.37},{"t":9.17,"r":-2.62},{"t":9.63,"r":0.07},{"t":10.08,"r":-4.48},{"t":10.53,"r":1.27},{"t":10.98,"r":-1.23},{"t":11.43,"r":3.28},{"t":11.87,"r":-0.92},{"t":12.33,"r":-4.58},{"t":12.78,"r":1.07},{"t":13.22,"r":-2.38},{"t":13.68,"r":2.96},{"t":14.13,"r":-1.08},{"t":14.57,"r":-3.48},{"t":15.02,"r":0.67},{"t":15.48,"r":-2.18},{"t":15.93,"r":2.93},{"t":16.38,"r":-0.42},{"t":16.82,"r":-4.42},{"t":17.27,"r":1.37},{"t":17.72,"r":-3.62},{"t":18.17,"r":2.08},{"t":18.63,"r":-1.28},{"t":19.08,"r":3.88},{"t":19.52,"r":-2.93},{"t":19.97,"r":0.42},{"t":20.42,"r":2.22},{"t":20.88,"r":-0.98},{"t":21.33,"r":-3.48},{"t":21.78,"r":2.42},{"t":22.23,"r":-0.68},{"t":22.68,"r":4.07},{"t":23.13,"r":-2.63},{"t":23.58,"r":0.92},{"t":24.03,"r":-3.18},
{"t":0.93,"r":4.83},{"t":2.03,"r":5.47},{"t":3.18,"r":4.93},{"t":4.38,"r":5.23},{"t":5.48,"r":4.88},{"t":6.58,"r":5.27},{"t":7.68,"r":4.78},{"t":8.78,"r":5.33},{"t":9.88,"r":4.93},{"t":10.98,"r":5.18},{"t":12.08,"r":4.73},{"t":13.18,"r":5.43},{"t":14.28,"r":4.98},{"t":15.38,"r":5.53},{"t":16.48,"r":4.68},{"t":17.58,"r":5.58},{"t":18.68,"r":5.38},{"t":19.78,"r":4.58},{"t":20.88,"r":5.63},{"t":21.98,"r":5.23},{"t":23.08,"r":4.38},
{"t":1.88,"r":-4.23},{"t":2.98,"r":-5.13},{"t":4.03,"r":-5.63},{"t":5.38,"r":-5.23},{"t":6.48,"r":-4.83},{"t":7.58,"r":-5.53},{"t":8.68,"r":-4.03},{"t":9.78,"r":-5.13},{"t":10.88,"r":-5.73},{"t":11.98,"r":-4.93},{"t":13.08,"r":-5.33},{"t":14.18,"r":-4.53},{"t":15.28,"r":-5.63},{"t":16.38,"r":-4.73},{"t":17.48,"r":-5.43},{"t":18.58,"r":-4.43},{"t":19.68,"r":-5.23},{"t":20.78,"r":-4.33},{"t":21.88,"r":-5.53},{"t":22.98,"r":-4.83}
]
},
"layer": [
{"data": {"name": "punti"},
 "mark": {"type": "point", "shape": "circle", "filled": false, "size": 40, "strokeWidth": 1.2, "color": "#b3b3b3", "opacity": 1},
 "encoding": {
  "x": {"field": "t", "type": "quantitative", "scale": {"domain": [-7.86, 34.56], "nice": false, "zero": false},
   "axis": {"title": "temperatura", "values": [0, 10, 20, 30], "domain": false, "grid": false, "tickSize": 14, "tickWidth": 1.5, "tickColor": "#3a3a3a", "labelFontSize": 22, "labelColor": "#1a1a1a", "labelPadding": 14, "labelFlush": false, "labelOverlap": false, "titleFontSize": 22, "titleFontWeight": "normal", "titleColor": "#1a1a1a", "titleBaseline": "alphabetic", "titleY": 101}},
  "y": {"field": "r", "type": "quantitative", "scale": {"domain": [-18.77, 12.38], "nice": false, "zero": false},
   "axis": {"title": "residui", "values": [-15, -10, -5, 0, 5, 10], "domain": false, "grid": false, "tickSize": 14, "tickWidth": 1.5, "tickColor": "#3a3a3a", "labelFontSize": 22, "labelColor": "#1a1a1a", "labelAngle": -90, "labelAlign": "center", "labelBaseline": "alphabetic", "labelPadding": 17, "labelFlush": false, "labelOverlap": false, "titleFontSize": 22, "titleFontWeight": "normal", "titleColor": "#1a1a1a", "titleAngle": -90, "titleAlign": "center", "titleBaseline": "alphabetic", "titleX": -87, "titleY": 231.5}}
 }},
{"data": {"name": "media"},
 "mark": {"type": "line", "strokeWidth": 3, "clip": true},
 "encoding": {
  "x": {"field": "t", "type": "quantitative"},
  "y": {"field": "m", "type": "quantitative"},
  "color": {"datum": "media", "type": "nominal", "scale": {"range": ["#ff0000"]},
   "legend": {"title": null, "orient": "none", "legendX": 305, "legendY": 0, "direction": "vertical", "symbolType": "stroke", "symbolSize": 1849, "symbolStrokeWidth": 3, "labelFontSize": 22, "labelColor": "#1a1a1a", "labelFont": "Liberation Sans", "labelOffset": 24, "padding": 16, "strokeColor": "#3a3a3a", "fillColor": "white", "cornerRadius": 0, "clipHeight": 24,
    "encode": {"legend": {"update": {"strokeWidth": {"value": 2}}}}}}
 }},
{"data": {"values": [{}]},
 "mark": {"type": "text", "align": "left", "baseline": "alphabetic", "fontSize": 20, "color": "#1a1a1a", "font": "Liberation Sans"},
 "encoding": {"x": {"datum": 25.38, "type": "quantitative"}, "y": {"datum": -18.44, "type": "quantitative"}, "text": {"value": "dati ARPAV"}}}
]
}
